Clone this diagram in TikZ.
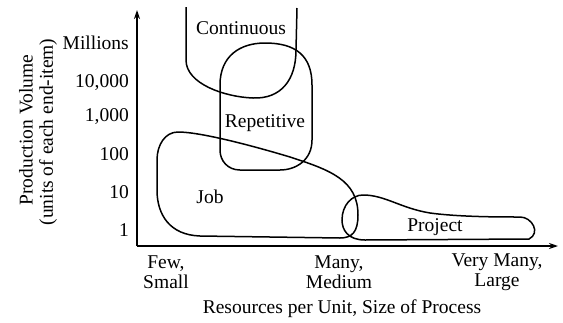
\documentclass[tikz,border=0pt]{standalone}
\usepackage{fontspec}
\setmainfont{Liberation Serif}
\usetikzlibrary{arrows.meta,positioning}

\begin{document}
\begin{tikzpicture}[x=1pt,y=-1pt,
    every node/.style={font=\fontsize{19.5}{20}\selectfont,inner sep=1pt},
    region/.style={line width=1.5pt},
    axis/.style={line width=1.5pt,-{Stealth[length=9pt,width=6pt]}},
    tick/.style={anchor=east}]
  \useasboundingbox (0,0) rectangle (563,322);

  \coordinate (o) at (137,246);
  \coordinate (ytop) at (137,10);
  \coordinate (xend) at (558,246);
  \draw[axis] (o) -- (ytop);
  \draw[axis] (o) -- (xend);

  \node[tick] (millions) at (130,43) {Millions};
  \node[tick] (t10000) at (130,83) {10,000};
  \node[tick] (t1000) at (130,117) {1,000};
  \node[tick] (t100) at (130,154) {100};
  \node[tick] (t10) at (130,192) {10};
  \node[tick] (t1) at (130,230) {1};

  \node[rotate=90] (ylabel) at (26,130) {Production Volume};
  \node[rotate=90] (yunits) at (48,132) {(units of each end-item)};

  \node[align=center] (few) at (166,272) {Few,\\Small};
  \node[align=center] (many) at (339,272) {Many,\\Medium};
  \node[align=center] (verymany) at (497,272) {Very Many,\\Large};
  \node (xlabel) at (342,309) {Resources per Unit, Size of Process};

  \draw[region] (186,7) -- (186,60) .. controls (186,84) and (225,97) .. (253,98)
    .. controls (281,99) and (296,80) .. (296,50) -- (297,8);
  \draw[region] (220,150) -- (220,85) .. controls (220,56) and (240,43) .. (265,43)
    .. controls (296,43) and (312,56) .. (312,85) -- (312,140)
    .. controls (312,160) and (296,170) .. (280,170) -- (240,170)
    .. controls (228,170) and (220,161) .. (220,150) -- cycle;
  \draw[region] (178,132) .. controls (200,132) and (250,145) .. (290,157)
    .. controls (330,170) and (358,180) .. (358,215)
    .. controls (358,232) and (352,238) .. (340,238) -- (200,236)
    .. controls (170,235) and (157,215) .. (157,190) -- (157,160)
    .. controls (157,145) and (165,132) .. (178,132) -- cycle;
  \draw[region] (363,195) .. controls (385,195) and (400,208) .. (430,213)
    .. controls (460,217) and (500,217) .. (520,217)
    .. controls (532,217) and (541,233) .. (529,239) -- (365,240)
    .. controls (348,240) and (342,230) .. (342,220)
    .. controls (342,205) and (352,195) .. (363,195) -- cycle;

  \node (continuous) at (241,28) {Continuous};
  \node (repetitive) at (265,123) {Repetitive};
  \node (job) at (210,197) {Job};
  \node (project) at (435,227) {Project};
\end{tikzpicture}
\end{document}
